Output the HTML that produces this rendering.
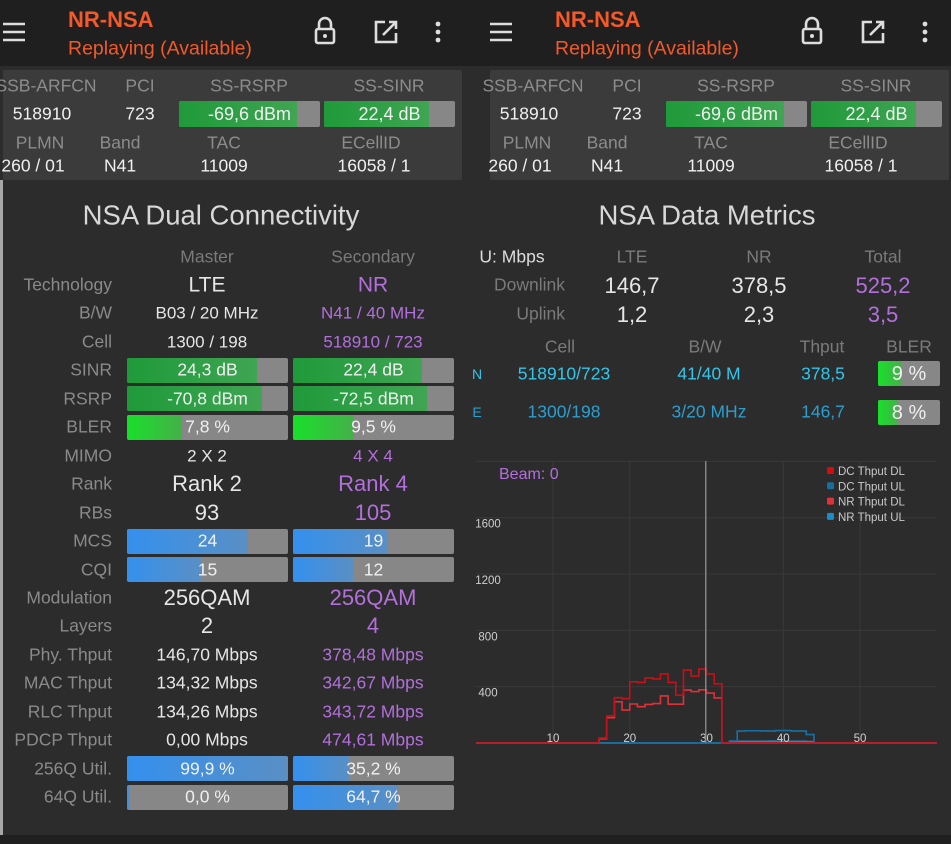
<!DOCTYPE html>
<html><head><meta charset="utf-8">
<style>
html,body{margin:0;padding:0;}
body{width:951px;height:844px;background:#2c2c2c;position:relative;overflow:hidden;font-family:"Liberation Sans","DejaVu Sans",sans-serif;}
.t{position:absolute;white-space:nowrap;transform:translate(-50%,-50%);line-height:1;}
.r{transform:translate(-100%,-50%);}
.bar{position:absolute;background:#878787;border-radius:2px;overflow:hidden;}
.bar .f{position:absolute;left:0;top:0;bottom:0;}
.bar .v{position:absolute;left:0;right:0;top:50%;transform:translateY(-50%);text-align:center;color:#f0f0f0;font-size:17.5px;line-height:1;}
.hdr{position:absolute;top:0;height:66px;background:#1f1f1f;}
.panel{position:absolute;top:70px;height:110px;background:#3b3b3b;border-radius:2px;}
</style></head>
<body>
<div class="hdr" style="left:0;width:951px"></div>
<div style="position:absolute;left:0;top:180px;width:3px;height:655px;background:#a8a8a8"></div>
<div style="position:absolute;left:0;top:835px;width:951px;height:9px;background:#202020"></div>
<div id="root"></div>
<svg id="chart" width="951" height="844" style="position:absolute;left:0;top:0;pointer-events:none"></svg>
<script>
// ---- chart data (per 1-unit bin, x from 0 to 59) ----
const xTicks = [10, 20, 30, 40, 50];
const yTicks = [400, 800, 1200, 1600];
const seriesNames = ["DC Thput DL", "DC Thput UL", "NR Thput DL", "NR Thput UL"];
const dcThputDL = [0,0,0,0,0,0,0,0,0,0,0,0,0,0,0,0,35,192,322,315,435,430,462,455,490,430,340,518,475,525,490,420,0,0,0,0,0,0,0,0,0,0,0,0,0,0,0,0,0,0,0,0,0,0,0,0,0,0,0,0];
const nrThputDL = [0,0,0,0,0,0,0,0,0,0,0,0,0,0,0,0,30,180,293,234,277,258,274,280,334,276,276,376,365,378,355,320,0,0,0,0,0,0,0,0,0,0,0,0,0,0,0,0,0,0,0,0,0,0,0,0,0,0,0,0];
const dcThputUL = [0,0,0,0,0,0,0,0,0,0,0,0,0,0,0,0,0,0,0,0,0,0,0,0,0,0,0,0,0,0,0,0,0,15,85,87,87,86,85,88,88,86,85,60,0,0,0,0,0,0,0,0,0,0,0,0,0,0,0,0];
const nrThputUL = [0,0,0,0,0,0,0,0,0,0,0,0,0,0,0,0,0,0,0,0,0,0,0,0,0,0,0,0,0,0,0,0,0,5,12,12,12,12,13,12,12,12,12,10,0,0,0,0,0,0,0,0,0,0,0,0,0,0,0,0];
const cursorX = 29.9;

const root = document.getElementById('root');
function mk(cls, x, y, txt, css, name, inter){
  const el = document.createElement('div');
  el.className = cls;
  el.style.left = x + 'px'; el.style.top = y + 'px';
  if (css) el.style.cssText += css;
  el.textContent = txt;
  
  
  root.appendChild(el);
  return el;
}
function bar(x, y, w, h, pct, txt, grad, name, fs){
  const b = document.createElement('div');
  b.className = 'bar';
  b.style.cssText = `left:${x}px;top:${y}px;width:${w}px;height:${h}px`;
  
  
  const f = document.createElement('div');
  f.className = 'f';
  f.style.width = pct + '%';
  f.style.background = grad;
  
  
  b.appendChild(f);
  const v = document.createElement('div');
  v.className = 'v';
  v.textContent = txt;
  if (fs) v.style.fontSize = fs + 'px';
  
  
  b.appendChild(v);
  root.appendChild(b);
}
const G = 'linear-gradient(90deg,#1f9a3a,#3fa552)';
const GB = 'linear-gradient(90deg,#18e02a,#45b04a)';
const B = 'linear-gradient(90deg,#3490ee,#5a8fc4)';

// ---- headers & info panels ----
[0, 487].forEach((o, k) => {
  const p = k ? 'right-' : 'left-';
  const ic = document.createElementNS('http://www.w3.org/2000/svg','svg');
  ic.setAttribute('width','470'); ic.setAttribute('height','66');
  ic.style.cssText = `position:absolute;left:${o}px;top:0`;
  
  
  ic.innerHTML = `<g stroke="#ddd" stroke-width="2.6" fill="none">
   <path d="M3 24H25M3 32H25M3 40H25"/>
   <rect x="316" y="29" width="18" height="14" rx="2"/><path d="M319 29v-5a6 6 0 0 1 12 0v5"/>
   <path d="M385 22h-9v20h20v-9M383 35l13-13M389 22h7v7"/></g>
   <circle cx="325" cy="36" r="2" fill="#ddd"/>
   <circle cx="438" cy="24" r="2.4" fill="#ddd"/><circle cx="438" cy="32" r="2.4" fill="#ddd"/><circle cx="438" cy="40" r="2.4" fill="#ddd"/>`;
  root.appendChild(ic);
  mk('t', o + 68, 20, 'NR-NSA', 'transform:translate(0,-50%);font-size:22px;font-weight:bold;color:#f4592a', p + 'title', false);
  mk('t', o + 68, 49, 'Replaying (Available)', 'transform:translate(0,-50%);font-size:19.5px;color:#f4592a', p + 'subtitle', false);
  mk('panel', o + 3, 70, '', 'width:459px', p + 'info-panel', false);
  const lab = 'font-size:17.5px;color:#8c8c8c';
  const val = 'font-size:17.5px;color:#f0f0f0';
  mk('t', o + 46, 86, 'SSB-ARFCN', lab, p + 'ssb-arfcn-label', false);
  mk('t', o + 140, 86, 'PCI', lab, p + 'pci-label', false);
  mk('t', o + 249, 86, 'SS-RSRP', lab, p + 'ss-rsrp-label', false);
  mk('t', o + 389, 86, 'SS-SINR', lab, p + 'ss-sinr-label', false);
  mk('t', o + 42, 114, '518910', val, p + 'ssb-arfcn-value', false);
  mk('t', o + 140, 114, '723', val, p + 'pci-value', false);
  bar(o + 179, 101, 141, 26, 84, '-69,6 dBm', G, p + 'ss-rsrp-bar', 18);
  bar(o + 324, 101, 131, 26, 80, '22,4 dB', G, p + 'ss-sinr-bar', 18);
  mk('t', o + 40, 143, 'PLMN', lab, p + 'plmn-label', false);
  mk('t', o + 120, 143, 'Band', lab, p + 'band-label', false);
  mk('t', o + 224, 143, 'TAC', lab, p + 'tac-label', false);
  mk('t', o + 371, 143, 'ECellID', lab, p + 'ecellid-label', false);
  mk('t', o + 33, 166, '260 / 01', val, p + 'plmn-value', false);
  mk('t', o + 120, 166, 'N41', val, p + 'band-value', false);
  mk('t', o + 224, 166, '11009', val, p + 'tac-value', false);
  mk('t', o + 374, 166, '16058 / 1', val, p + 'ecellid-value', false);
});

// ---- left: NSA Dual Connectivity ----
mk('t', 221, 215, 'NSA Dual Connectivity', 'font-size:27.5px;color:#d8d8d8', 'dual-connectivity-title', false);
mk('t', 207, 257, 'Master', 'font-size:17.5px;color:#7a7a7a', 'master-header', false);
mk('t', 373, 257, 'Secondary', 'font-size:17.5px;color:#7a7a7a', 'secondary-header', false);
const rows = [
 ['Technology','LTE','NR',21,null],
 ['B/W','B03 / 20 MHz','N41 / 40 MHz',17,null],
 ['Cell','1300 / 198','518910 / 723',17,null],
 ['SINR','24,3 dB','22,4 dB',0,[81,80,G]],
 ['RSRP','-70,8 dBm','-72,5 dBm',0,[84,83,G]],
 ['BLER','7,8 %','9,5 %',0,[34,38,GB]],
 ['MIMO','2 X 2','4 X 4',17,null],
 ['Rank','Rank 2','Rank 4',22,null],
 ['RBs','93','105',22,null],
 ['MCS','24','19',0,[75,59,B]],
 ['CQI','15','12',0,[46,37,B]],
 ['Modulation','256QAM','256QAM',22,null],
 ['Layers','2','4',22,null],
 ['Phy. Thput','146,70 Mbps','378,48 Mbps',17.5,null],
 ['MAC Thput','134,32 Mbps','342,67 Mbps',17.5,null],
 ['RLC Thput','134,26 Mbps','343,72 Mbps',17.5,null],
 ['PDCP Thput','0,00 Mbps','474,61 Mbps',17.5,null],
 ['256Q Util.','99,9 %','35,2 %',0,[99.9,35,B]],
 ['64Q Util.','0,0 %','64,7 %',0,[2,65,B]],
];
rows.forEach((r, i) => {
  const y = 285 + i * 28.45;
  const n = r[0].toLowerCase().replace(/[^a-z0-9]+/g,'-').replace(/-$/,'');
  mk('t r', 112, y, r[0], 'font-size:17.5px;color:#8a8a8a', n + '-label', false);
  if (r[4]) {
    bar(127, y - 12.5, 161, 25, r[4][0], r[1], r[4][2], 'master-' + n + '-bar');
    bar(293, y - 12.5, 161, 25, r[4][1], r[2], r[4][2], 'secondary-' + n + '-bar');
  } else {
    mk('t', 207, y, r[1], `font-size:${r[3]}px;color:#e6e6e6`, 'master-' + n + '-value', false);
    mk('t', 373, y, r[2], `font-size:${r[3]}px;color:#b36fdc`, 'secondary-' + n + '-value', false);
  }
});

// ---- right: NSA Data Metrics ----
mk('t', 707, 215, 'NSA Data Metrics', 'font-size:27.5px;color:#d8d8d8', 'data-metrics-title', false);
const H = 'font-size:17.5px;color:#7a7a7a';
mk('t', 512, 257, 'U: Mbps', 'font-size:17.5px;color:#dcdcdc', 'units-label', false);
mk('t', 632, 257, 'LTE', H, 'lte-header', false);
mk('t', 759, 257, 'NR', H, 'nr-header', false);
mk('t', 883, 257, 'Total', H, 'total-header', false);
mk('t r', 565, 285, 'Downlink', H, 'downlink-label', false);
mk('t r', 565, 314, 'Uplink', H, 'uplink-label', false);
mk('t', 632, 286, '146,7', 'font-size:22px;color:#e6e6e6', 'lte-downlink', false);
mk('t', 759, 286, '378,5', 'font-size:22px;color:#e6e6e6', 'nr-downlink', false);
mk('t', 883, 286, '525,2', 'font-size:22px;color:#b36fdc', 'total-downlink', false);
mk('t', 632, 315, '1,2', 'font-size:22px;color:#e6e6e6', 'lte-uplink', false);
mk('t', 759, 315, '2,3', 'font-size:22px;color:#e6e6e6', 'nr-uplink', false);
mk('t', 883, 315, '3,5', 'font-size:22px;color:#b36fdc', 'total-uplink', false);
mk('t', 560, 347, 'Cell', H, 'cell-header', false);
mk('t', 705, 347, 'B/W', H, 'bw-header', false);
mk('t', 822, 347, 'Thput', H, 'thput-header', false);
mk('t', 909, 347, 'BLER', H, 'bler-header', false);
const C1 = 'font-size:17.5px;color:#32c6ea', C2 = 'font-size:17.5px;color:#2a9fd0';
mk('t', 477, 374, 'N', 'font-size:14px;color:#32c6ea', 'nr-row-marker', false);
mk('t', 564, 374, '518910/723', C1, 'nr-cell', false);
mk('t', 709, 374, '41/40 M', C1, 'nr-bw', false);
mk('t', 823, 374, '378,5', C1, 'nr-thput', false);
bar(878, 361, 62, 25, 37, '9 %', GB, 'nr-bler-bar', 20);
mk('t', 477, 412, 'E', 'font-size:14px;color:#2a9fd0', 'lte-row-marker', false);
mk('t', 564, 412, '1300/198', C2, 'lte-cell', false);
mk('t', 709, 412, '3/20 MHz', C2, 'lte-bw', false);
mk('t', 823, 412, '146,7', C2, 'lte-thput', false);
bar(878, 400, 62, 25, 32, '8 %', GB, 'lte-bler-bar', 20);

// ---- chart ----
const svg = document.getElementById('chart');
const NS = 'http://www.w3.org/2000/svg';
const xs = v => 476.25 + v * 7.675;
const ys = v => 743 - v * 0.1408;
function s(tag, attrs, name){
  const e = document.createElementNS(NS, tag);
  for (const k in attrs) e.setAttribute(k, attrs[k]);
  
  
  svg.appendChild(e);
  return e;
}
yTicks.concat([2000]).forEach(v => {
  s('line', {x1:476, x2:936, y1:ys(v), y2:ys(v), stroke:'#393939', 'stroke-width':1}, 'y-gridline');
});
xTicks.forEach(v => {
  s('line', {x1:xs(v), x2:xs(v), y1:461, y2:743, stroke:'#393939', 'stroke-width':1}, 'x-gridline');
});
yTicks.forEach(v => {
  const t = s('text', {x:488, y:ys(v)+10, fill:'#cfcfcf', 'font-size':11.5, 'text-anchor':'middle', 'font-family':'Liberation Sans, sans-serif'}, 'y-tick-label');
  t.textContent = v;
});
function stepPath(arr){
  let d = `M${xs(0)},${ys(arr[0])}`;
  for (let i = 0; i < arr.length; i++){
    d += `L${xs(i)},${ys(arr[i])}L${xs(i+1)},${ys(arr[i])}`;
  }
  return d;
}
s('path', {d:stepPath(nrThputUL), fill:'none', stroke:'#1a8cc8', 'stroke-width':1.6}, 'nr-thput-ul-line');
s('path', {d:stepPath(dcThputUL), fill:'none', stroke:'#1670a6', 'stroke-width':1.6}, 'dc-thput-ul-line');
s('path', {d:stepPath(nrThputDL), fill:'none', stroke:'#e0303a', 'stroke-width':1.6}, 'nr-thput-dl-line');
s('path', {d:stepPath(dcThputDL), fill:'none', stroke:'#c8101a', 'stroke-width':1.6}, 'dc-thput-dl-line');
xTicks.forEach(v => {
  const t = s('text', {x:xs(v), y:742, fill:'#d0d0d0', 'font-size':11.5, 'text-anchor':'middle', 'font-family':'Liberation Sans, sans-serif'}, 'x-tick-label');
  t.textContent = v;
});
s('line', {x1:xs(cursorX), x2:xs(cursorX), y1:461, y2:743, stroke:'#8a8a8a', 'stroke-width':1.3}, 'cursor-line');
const bt = s('text', {x:499, y:479, fill:'#b36fdc', 'font-size':16, 'font-family':'Liberation Sans, sans-serif'}, 'beam-label');
bt.textContent = 'Beam: 0';
const legCols = ['#d40c0c', '#176fa0', '#e0303a', '#1a8cc8'];
seriesNames.forEach((nm, i) => {
  const y = 471 + i * 15.3;
  s('rect', {x:827, y:y - 4, width:7, height:7, rx:1.5, fill:legCols[i]}, 'legend-swatch');
  const t = s('text', {x:838, y:y + 4, fill:'#c8c8c8', 'font-size':11.5, 'font-family':'Liberation Sans, sans-serif'}, 'legend-entry');
  t.textContent = nm;
});
</script>
</body></html>
